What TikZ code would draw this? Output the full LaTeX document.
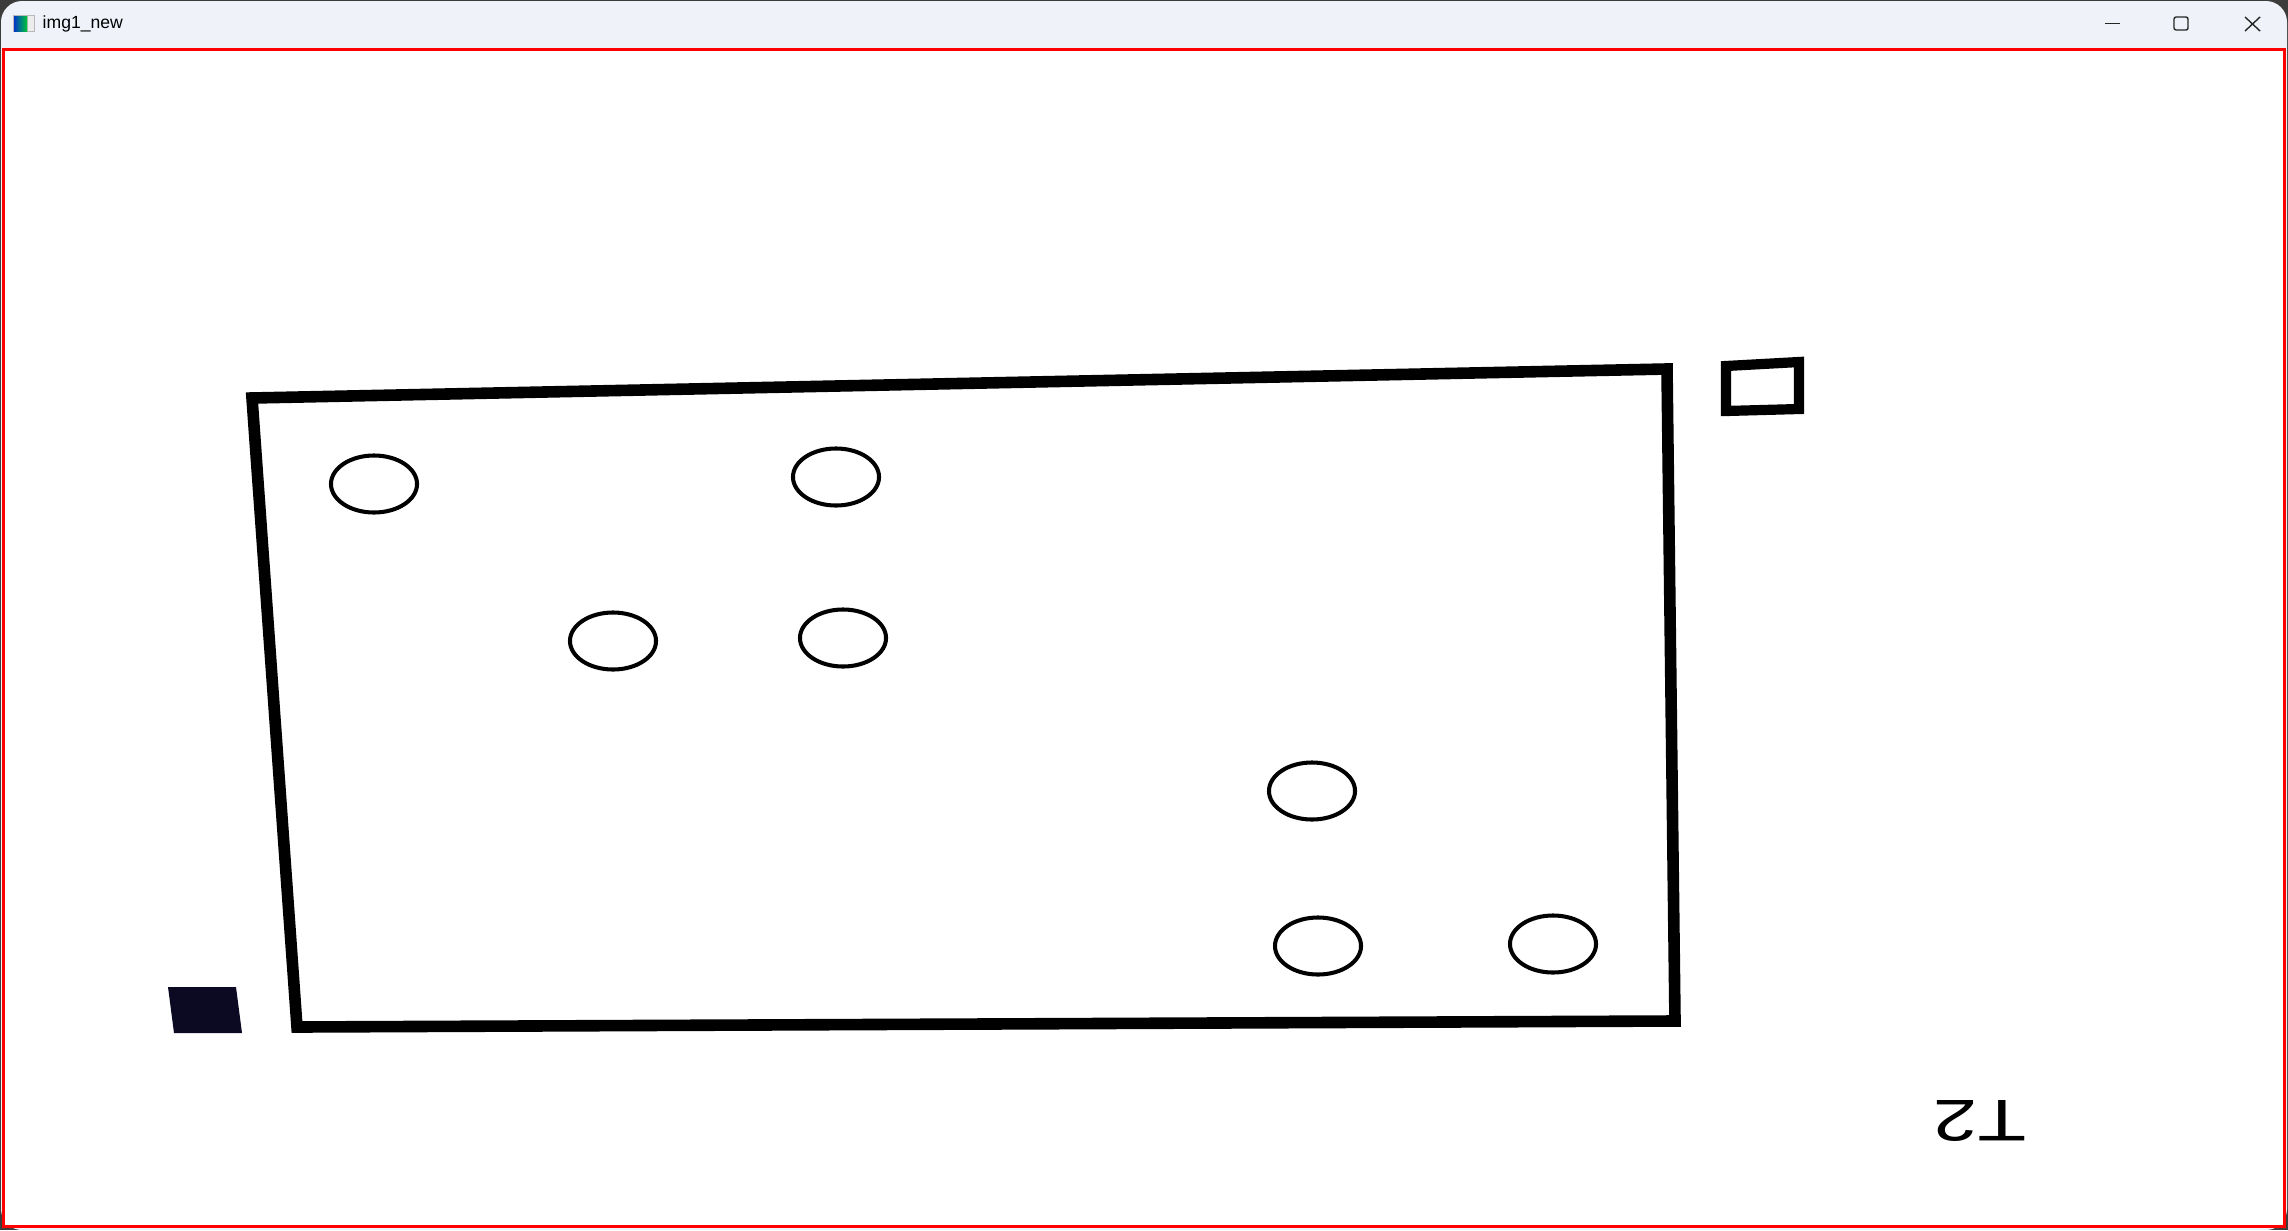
\documentclass[tikz,border=0pt]{standalone}
\usepackage{fontspec}
\setmainfont{Liberation Sans}
\usetikzlibrary{shapes.geometric, positioning}
\definecolor{titlebg}{RGB}{239,243,249}
\definecolor{winedge}{RGB}{60,60,60}
\definecolor{inkblue}{RGB}{12,10,35}

\begin{document}
\begin{tikzpicture}[x=0.01cm, y=-0.01cm,
  hole/.style={ellipse, draw=black, line width=1.15pt, minimum width=0.86cm, minimum height=0.57cm, inner sep=0pt},
  frame/.style={draw=black, line width=3.3pt, line join=miter},
  winbtn/.style={draw=black!85, line width=0.4pt},
  lbl/.style={font=\fontsize{16.7}{18}\selectfont, inner sep=0pt}
]
  \useasboundingbox (0,0) rectangle (2288,1230);
  % window
  \fill[winedge] (0,0) rectangle (2288,1230);
  \fill[titlebg, rounded corners=6pt] (1,1) rectangle (2287,1230);
  \fill[white] (3,49) rectangle (2285,1227);
  \draw[red, line width=0.9pt] (3.5,49.5) rectangle (2284.5,1226.5);
  % title bar
  \fill[gray!55] (13,15) rectangle (35,32);
  \fill[left color=blue!55!teal, right color=green!55!teal] (14,16) rectangle (27,31);
  \fill[white!85!gray] (28,16) rectangle (34,31);
  \node[font=\fontsize{5}{6}\selectfont, anchor=west, inner sep=0pt] (title) at (42,24) {img1\_new};
  \draw[winbtn] (2105,23.5) -- (2120,23.5);
  \draw[winbtn, rounded corners=0.6pt] (2174,17) rectangle (2188,30);
  \draw[winbtn] (2245,17) -- (2260,31) (2260,17) -- (2245,31);
  % plate
  \draw[frame] (252,398) -- (1667,369) -- (1675,1021) -- (297,1027) -- cycle;
  \draw[frame, line width=2.9pt] (1726,366) -- (1799,362) -- (1799,409) -- (1726,411) -- cycle;
  \fill[inkblue] (168,987) -- (236,987) -- (242,1033) -- (174,1033) -- cycle;
  % holes
  \foreach \n/\x/\y in {a/374/484, b/836/477, c/613/641, d/843/638, e/1312/791, f/1318/946, g/1553/944}{
    \node[hole] (h\n) at (\x,\y) {};
  }
  \node[lbl, rotate=180, xscale=1.35] (tag) at (1980,1121) {T2};
\end{tikzpicture}
\end{document}
